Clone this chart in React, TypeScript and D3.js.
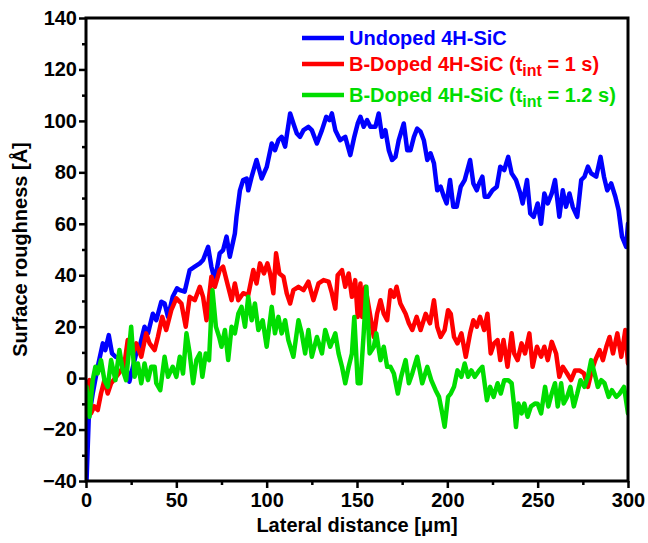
import React, { useEffect, useRef } from 'react';
import * as d3 from 'd3';

// [lateral distance (µm), roughness (Å)]
const undoped: [number, number][] = [
  [0.3, -40], [1.5, -16], [3.7, -6], [6.5, 4.4], [9.3, 13.5], [10.7, 10.9], [12.6, 16.7], [14.4, 9.6], [16.3, 8.3], [18.5, 7.6],
  [20.4, 6.4], [22.2, 4.4], [24, -1.4], [26, 4.4], [27.8, 9.6], [29.6, 12], [32.4, 20], [34.3, 17.4], [37, 25], [38.9, 22.5],
  [41.7, 29.7], [43.5, 29], [45.4, 23.8], [48, 31.6], [50.4, 34.9], [51.9, 34.2], [54.6, 33.6], [57.4, 42], [60.2, 43.3], [63, 44.6],
  [64.8, 45.9], [67.6, 51], [69.4, 43.3], [71.3, 38], [74, 48.5], [75.9, 49.8], [77.8, 55], [79.6, 47.2], [82.4, 56.2], [83.3, 62.7],
  [85.2, 73], [87, 77], [88.9, 77.6], [89.8, 73], [91.7, 78.3], [94.4, 84.8], [97.2, 77.6], [100, 82], [102.8, 91.2], [104.6, 88.6],
  [106.5, 92.5], [108.3, 93.8], [110.2, 90], [113, 102.9], [114.8, 99], [116.7, 95.1], [118.5, 93.8], [120.4, 96.4], [123.1, 97.7], [125, 96.4],
  [127.8, 91.2], [130.6, 96.4], [133, 101.6], [134.8, 100.3], [136.1, 102.9], [138, 96.4], [140.7, 92.5], [143.5, 93.8], [146.3, 86.7], [148.5, 93.8],
  [150.4, 99], [151.9, 101.6], [153.7, 97.7], [155.6, 100.3], [157.4, 97.7], [160.2, 97.7], [162, 102.9], [163.9, 93.8], [165.7, 96.4], [167.6, 88.6],
  [169.4, 84.8], [171.3, 86], [173.1, 92.5], [175.9, 99], [177.8, 88.6], [179.6, 88.6], [181.5, 93.8], [183.3, 97], [185.2, 95.8], [187, 92.5],
  [188.9, 84.8], [190.7, 87.4], [192.6, 83.5], [194.4, 73], [196.3, 74.4], [198.1, 70.5], [199.6, 67.9], [201.5, 77], [203.3, 66.6], [205.2, 66.6],
  [207.4, 74.4], [209.6, 77], [212.6, 84.8], [214.4, 75.7], [216.3, 73], [217.6, 75.7], [219.4, 78.3], [220.7, 70.5], [222.6, 70.5], [225, 73],
  [227.4, 74.4], [229.3, 82.2], [231.5, 80.9], [233.7, 86], [235.6, 79.6], [238, 77], [240.4, 71.8], [241.7, 67.9], [244.1, 77], [245.9, 64],
  [247.8, 62.7], [250, 67.9], [251.9, 60], [253.7, 71.8], [255.6, 67.9], [257.8, 71.8], [259.6, 77], [262, 62.7], [263.9, 73], [265.7, 66.6],
  [267.6, 71.8], [269.4, 66.6], [271.9, 62.7], [274.1, 77], [275.9, 78.3], [277.8, 82.2], [279.6, 79.6], [282.4, 78.3], [284.8, 86], [286.7, 78.3],
  [288.5, 73], [290.7, 75.7], [293, 70.5], [294.8, 65.3], [296.7, 55], [299, 51], [300, 60],
];

const doped1s: [number, number][] = [
  [0.3, -4], [1.9, -0.8], [2.8, -13.7], [4.6, -11], [6.5, -12.4], [8.3, -6], [10.2, -0.8], [12, -6], [13.9, -2], [16.7, 0.5],
  [19.4, 3], [21.3, 5.7], [23.1, 14.8], [26, 9.6], [27.8, 13.5], [30.6, 8.3], [33.3, 17.4], [35.2, 13.5], [38, 10.9], [39.8, 16],
  [42.2, 23.8], [44.4, 18.7], [47.2, 26.4], [50, 31], [52.8, 29], [55.2, 20], [57.4, 31.6], [60.2, 30.3], [63, 35.5], [64.8, 31.6],
  [66.7, 22.5], [69.4, 39.4], [71.3, 35.5], [74, 42], [75.9, 43.3], [78.7, 35.5], [80.6, 30.3], [82.4, 36.8], [84.3, 30.3], [87, 33],
  [89.8, 32.3], [92.6, 42], [94.4, 36.8], [96.3, 44.6], [98.5, 40.7], [100.4, 44.6], [101.9, 40.7], [103.7, 33], [105.2, 48.5], [107, 40.7],
  [109.3, 39.4], [111.1, 33], [113, 29], [114.8, 34.2], [117.6, 35.5], [120.4, 34.2], [123.1, 37.5], [125.9, 30.3], [128.7, 36.8], [131.5, 38.1],
  [134.3, 37.5], [136.1, 33], [138, 27], [139.3, 40], [141.7, 42], [143.5, 35.5], [145.4, 40.7], [147.2, 31.6], [149, 38.1], [150.4, 23.8],
  [151.9, 36.8], [152.8, 23.8], [154.6, 35.5], [156.5, 27.7], [159.3, 16], [161.1, 25], [163, 30.3], [164.8, 25], [166.7, 22.5], [168.5, 34.2],
  [170.4, 31.6], [171.9, 35.5], [174, 29], [176.9, 25], [178.7, 21.3], [180.6, 18.7], [183, 23.8], [185.2, 18.7], [188, 25], [190.4, 21.3],
  [192.6, 30.3], [194.4, 20], [196.3, 16], [198.5, 18.7], [200.4, 26.4], [201.9, 25], [203.7, 16], [205.6, 13.5], [207.8, 17.4], [210.2, 8.3],
  [212.6, 17.4], [214.4, 22.5], [216.3, 20], [218.1, 23.8], [220.4, 18.7], [222.2, 25], [224, 9.6], [225.9, 13.5], [227.8, 14.8], [229.3, 7],
  [231.1, 14.8], [233.3, 4.4], [235.6, 17.4], [237, 9.6], [238.9, 7], [241.1, 13.5], [243, 9.6], [245.4, 17.4], [247.2, 4.4], [249.6, 12.2],
  [251.9, 8.3], [253.7, 12.2], [255.6, 7], [257.8, 14.1], [260.2, 9.6], [262, 0.5], [263.9, 4.4], [266.3, 1.8], [268.5, -0.8], [270.7, 3],
  [273.1, 3], [275.6, 1.8], [277.8, -3.4], [280, 3], [281.9, 7], [284.3, 10.9], [286.1, 7], [288, 12.2], [289.8, 16], [291.7, 9.6],
  [294.1, 17.4], [296.3, 8.3], [298.5, 18.7], [300, 5.7],
];

const doped12s: [number, number][] = [
  [0.3, -3.4], [1.9, -15], [3.7, -0.8], [5.2, 4.4], [6.5, 1.8], [8.3, 7], [10.2, -0.8], [12, -3.4], [13.9, 7], [16.3, -0.8],
  [18.5, 10.9], [20.4, 3], [22.2, -0.8], [25, 20], [26.9, 0.5], [28.7, 5.7], [30.6, -2], [32.4, 5.7], [34.3, -0.8], [36.1, 4.4],
  [38, 4.4], [38.9, -2], [41.1, -4.7], [43.5, 8.3], [45.4, 0.5], [48, 4.4], [50, 0.5], [51.9, 8.3], [53.7, 1.8], [55.6, 17.4],
  [57.4, 9.6], [59.3, -2], [61.1, 7], [63, 9.6], [64.4, 0.5], [66.3, 9.6], [68.1, 7], [70, 34.2], [71.9, 20], [73.7, 16],
  [75, 12.2], [76.9, 18.7], [78.7, 7], [80.6, 20], [82.4, 17.4], [84.3, 25], [86.1, 27.7], [88, 20], [89.8, 31.6], [91.7, 22.5],
  [93.5, 29], [95.4, 18.7], [97.8, 22.5], [100, 12.2], [102.8, 27.7], [104.6, 17.4], [106.5, 23.8], [108.3, 17.4], [110.2, 22.5], [112, 14.8],
  [114.8, 8.3], [117.6, 22.5], [119.4, 17.4], [121.3, 9.6], [123.1, 18.7], [125, 8.3], [127.8, 16], [130.6, 9.6], [132.4, 18.7], [135.2, 12.2],
  [138, 17.4], [139.8, 9.6], [141.7, 4.4], [143.5, -2], [145.4, 4.4], [147.2, 9.6], [148.5, 23.8], [150.4, -2], [151.9, -2], [153.7, 17.4],
  [155.2, 35.5], [157, 9.6], [159.3, 12.2], [160.7, 17.4], [163, 7], [164.8, 12.2], [166.7, 4.4], [168.5, 4.4], [170.4, 1.8], [172.6, -6],
  [174.4, 0.5], [176.9, 7], [178.7, -2], [180.6, 1.8], [183.3, 8.3], [186.1, -2], [188.9, 4.4], [191.1, -0.8], [193.5, -4.7], [195.4, -7.3],
  [197.2, -13.7], [198.5, -18.9], [200.4, -7.3], [201.9, -6], [203.7, -3.4], [205.6, 3], [207.8, 0.5], [209.6, 5.7], [211.5, 0.5], [213.3, 3],
  [215.2, 0.5], [217.6, 3], [219.4, 4.4], [221.9, -8.6], [223.7, -3.4], [225.6, -7.3], [227.8, -2], [229.6, -6], [231.5, -0.8], [233.7, -0.8],
  [235.6, -2], [237, -11], [238, -19], [239.3, -9.9], [241.1, -13.7], [242.6, -9.9], [244.4, -15], [246.3, -11], [248.5, -9.9], [250, -10],
  [251.9, -13.7], [254.1, -3.4], [255.9, -11], [257.8, -6], [259.6, -2], [261.1, -11], [263, -2], [264.4, -9.9], [266.3, -7.3], [268.1, -3.4],
  [270, -11], [271.9, -6], [273.7, -0.8], [275.9, -3.4], [277.8, 0.5], [279.6, 7], [281.5, 1.8], [283.3, -3.4], [285.2, -0.8], [287, -2],
  [289.3, -7.3], [291.1, -4.7], [293.5, -7.3], [295.4, -6], [297.8, -3.4], [300, -13.7],
];

const xTicks = [0, 50, 100, 150, 200, 250, 300];
const yTicks = [-40, -20, 0, 20, 40, 60, 80, 100, 120, 140];

const series = [
  { name: 'Undoped 4H-SiC', sub: null, tail: null, data: undoped, color: '#0000ff' },
  { name: 'B-Doped 4H-SiC (t', sub: 'int', tail: ' = 1 s)', data: doped1s, color: '#ff0000' },
  { name: 'B-Doped 4H-SiC (t', sub: 'int', tail: ' = 1.2 s)', data: doped12s, color: '#00dd00' },
];

const W = 648;
const H = 543;
const FONT = 'Arial, "Liberation Sans", sans-serif';

const App = () => {
  const svgRef = useRef<SVGSVGElement>(null);

  useEffect(() => {
    const margin = { top: 18, right: 20, bottom: 62, left: 86 };
    const width = W - margin.left - margin.right;
    const height = H - margin.top - margin.bottom;

    d3.select(svgRef.current).selectAll('*').remove();
    const root = d3.select(svgRef.current);
    const svg = root.append('g').attr('transform', `translate(${margin.left},${margin.top})`);

    const x = d3.scaleLinear().domain([0, 300]).range([0, width]);
    const y = d3.scaleLinear().domain([-40, 140]).range([height, 0]);

    root.append('defs').append('clipPath').attr('id', 'plotclip')
      .append('rect').attr('x', 0).attr('y', 0).attr('width', width).attr('height', height);

    // Lines
    const line = d3.line<[number, number]>().x(d => x(d[0])).y(d => y(d[1]));
    const lines = svg.append('g').attr('clip-path', 'url(#plotclip)');
    series.forEach(s => {
      lines.append('path')
        .attr('d', line(s.data))
        .attr('fill', 'none')
        .attr('stroke', s.color)
        .attr('stroke-width', 4.5)
        .attr('stroke-linejoin', 'round')
        .attr('stroke-linecap', 'round');
    });

    // Minor ticks
    svg.append('g')
      .attr('transform', `translate(0,${height})`)
      .call(d3.axisBottom(x).tickValues(d3.range(25, 300, 50)).tickSize(4).tickFormat(() => ''))
      .call(g => g.select('.domain').remove())
      .call(g => g.selectAll('.tick line').attr('stroke-width', 2.5));
    svg.append('g')
      .call(d3.axisLeft(y).tickValues(d3.range(-30, 140, 20)).tickSize(4).tickFormat(() => ''))
      .call(g => g.select('.domain').remove())
      .call(g => g.selectAll('.tick line').attr('stroke-width', 2.5));

    // Major ticks and labels
    svg.append('g')
      .attr('transform', `translate(0,${height})`)
      .call(d3.axisBottom(x).tickValues(xTicks).tickSize(7).tickPadding(5).tickFormat(d3.format('d')))
      .call(g => g.select('.domain').remove())
      .call(g => g.selectAll('.tick line').attr('stroke-width', 2.5))
      .call(g => g.selectAll('.tick text')
        .attr('font-family', FONT).attr('font-size', 20).attr('font-weight', 'bold').attr('fill', '#000'));
    svg.append('g')
      .call(d3.axisLeft(y).tickValues(yTicks).tickSize(7).tickPadding(2).tickFormat(d3.format('d')))
      .call(g => g.select('.domain').remove())
      .call(g => g.selectAll('.tick line').attr('stroke-width', 2.5))
      .call(g => g.selectAll('.tick text')
        .attr('font-family', FONT).attr('font-size', 20).attr('font-weight', 'bold').attr('fill', '#000'));

    // Frame
    svg.append('rect')
      .attr('width', width).attr('height', height)
      .attr('fill', 'none').attr('stroke', '#000').attr('stroke-width', 3);

    // Axis titles
    root.append('text')
      .attr('x', margin.left + width / 2).attr('y', 532)
      .attr('text-anchor', 'middle')
      .attr('font-family', FONT).attr('font-size', 20).attr('font-weight', 'bold')
      .text('Lateral distance [μm]');
    root.append('text')
      .attr('transform', `translate(27,${margin.top + height / 2}) rotate(-90)`)
      .attr('text-anchor', 'middle')
      .attr('font-family', FONT).attr('font-size', 20).attr('font-weight', 'bold')
      .text('Surface roughness [Å]');

    // Legend
    const legendRows = [38, 64, 95];
    const legend = root.append('g');
    series.forEach((s, i) => {
      const ly = legendRows[i];
      legend.append('line')
        .attr('x1', 302).attr('x2', 344).attr('y1', ly).attr('y2', ly)
        .attr('stroke', s.color).attr('stroke-width', 4.5);
      const t = legend.append('text')
        .attr('x', 349).attr('y', ly + 7)
        .attr('font-family', FONT).attr('font-size', 20).attr('font-weight', 'bold')
        .attr('fill', s.color);
      t.append('tspan').text(s.name);
      if (s.sub) {
        t.append('tspan').attr('dy', 5).attr('font-size', 16).text(s.sub);
        t.append('tspan').attr('dy', -5).text(s.tail);
      }
    });
  }, []);

  return (
    <svg
      ref={svgRef}
      width={W}
      height={H}
      style={{ position: 'absolute', left: 0, top: 0, background: '#fff' }}
    />
  );
};

export default App;
